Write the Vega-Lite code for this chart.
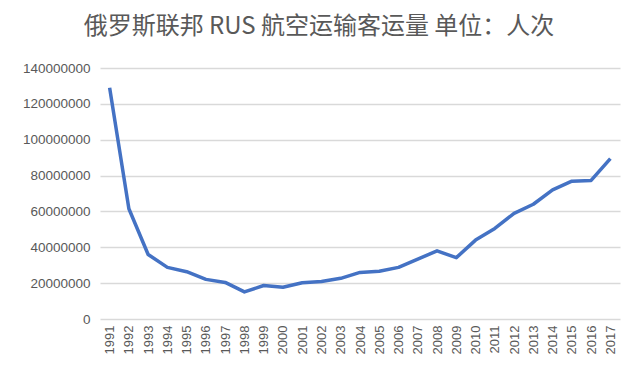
{
  "$schema": "https://vega.github.io/schema/vega-lite/v6.json",
  "width": 520,
  "height": 251,
  "autosize": {"type": "none"},
  "padding": {"left": 100, "top": 68, "right": 20, "bottom": 66},
  "background": "white",
  "title": {
    "text": "俄罗斯联邦 RUS 航空运输客运量 单位：人次",
    "font": "Noto Sans CJK SC",
    "fontSize": 24,
    "fontWeight": "normal",
    "color": "#595959",
    "anchor": "middle",
    "frame": "group",
    "dx": -41,
    "offset": 22
  },
  "data": {
    "values": [
      {"year": "1991", "v": 129000000},
      {"year": "1992", "v": 61500000},
      {"year": "1993", "v": 36000000},
      {"year": "1994", "v": 28800000},
      {"year": "1995", "v": 26400000},
      {"year": "1996", "v": 22100000},
      {"year": "1997", "v": 20400000},
      {"year": "1998", "v": 15100000},
      {"year": "1999", "v": 18700000},
      {"year": "2000", "v": 17700000},
      {"year": "2001", "v": 20200000},
      {"year": "2002", "v": 20900000},
      {"year": "2003", "v": 22700000},
      {"year": "2004", "v": 26000000},
      {"year": "2005", "v": 26600000},
      {"year": "2006", "v": 28800000},
      {"year": "2007", "v": 33400000},
      {"year": "2008", "v": 38000000},
      {"year": "2009", "v": 34200000},
      {"year": "2010", "v": 44000000},
      {"year": "2011", "v": 50500000},
      {"year": "2012", "v": 58900000},
      {"year": "2013", "v": 64000000},
      {"year": "2014", "v": 72000000},
      {"year": "2015", "v": 76900000},
      {"year": "2016", "v": 77300000},
      {"year": "2017", "v": 89500000}
    ]
  },
  "mark": {"type": "line", "color": "#4472C4", "strokeWidth": 3.5, "strokeJoin": "round"},
  "encoding": {
    "x": {
      "field": "year",
      "type": "ordinal",
      "scale": {"type": "point", "padding": 0.5},
      "axis": {
        "title": null,
        "labelAngle": -90,
        "labelFont": "Liberation Sans",
        "labelFontSize": 13,
        "labelColor": "#595959",
        "domain": false,
        "ticks": false,
        "labelPadding": 6
      }
    },
    "y": {
      "field": "v",
      "type": "quantitative",
      "scale": {"domain": [0, 140000000]},
      "axis": {
        "title": null,
        "values": [0, 20000000, 40000000, 60000000, 80000000, 100000000, 120000000, 140000000],
        "format": "d",
        "labelFont": "Liberation Sans",
        "labelFontSize": 13.5,
        "labelColor": "#595959",
        "domain": false,
        "ticks": false,
        "gridColor": "#d9d9d9",
        "gridWidth": 1.5,
        "labelPadding": 10
      }
    }
  },
  "config": {"view": {"stroke": null}}
}
